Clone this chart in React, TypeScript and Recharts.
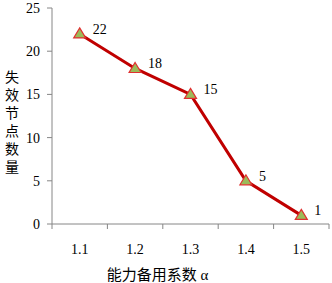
import React from 'react';
import { LineChart, Line, XAxis, YAxis, LabelList, Label } from 'recharts';

const categories = [1.1, 1.2, 1.3, 1.4, 1.5];
const failedNodes = [22, 18, 15, 5, 1];
const boundaryTicks = [1.05, 1.15, 1.25, 1.35, 1.45, 1.55];
const yTicks = [0, 5, 10, 15, 20, 25];
const yTitle = '失效节点数量';
const xTitle = '能力备用系数 α';

const data = categories.map((c, i) => ({ alpha: c, count: failedNodes[i] }));

const FONT = '"Liberation Serif", "Noto Sans CJK SC", serif';
const AXIS = '#868686';

const Triangle = (props: any) => {
  const { cx, cy } = props;
  if (cx == null || cy == null) return null;
  return (
    <path
      d={`M${cx},${cy - 6} L${cx + 6},${cy + 4} L${cx - 6},${cy + 4} Z`}
      fill="#9BBB59"
      stroke="#E03030"
      strokeWidth={1.2}
    />
  );
};

const ValueLabel = (props: any) => {
  const { x, y, value } = props;
  return (
    <text x={x + 13} y={y - 5} dy="0.35em" fontSize={14} fontFamily={FONT} fill="#000" textAnchor="start">
      {value}
    </text>
  );
};

const VerticalTitle = () => (
  <text x={12} y={77} fontSize={14} fontFamily={FONT} fill="#000" textAnchor="middle">
    {yTitle.split('').map((ch, i) => (
      <tspan key={i} x={12} dy={i === 0 ? '0.35em' : 18}>
        {ch}
      </tspan>
    ))}
  </text>
);

export default function App() {
  document.body.style.margin = '0';
  return (
    <div style={{ width: 332, height: 283, background: '#fff' }}>
      <LineChart width={332} height={283} data={data} margin={{ top: 8, right: 3, bottom: 0, left: 0 }}>
        <XAxis
          xAxisId="grid"
          type="number"
          dataKey="alpha"
          domain={[1.05, 1.55]}
          ticks={boundaryTicks}
          tickFormatter={() => ''}
          stroke={AXIS}
          tickSize={5}
          height={6}
        />
        <XAxis
          xAxisId="lab"
          type="number"
          dataKey="alpha"
          domain={[1.05, 1.55]}
          ticks={categories}
          axisLine={false}
          tickLine={false}
          tick={{ fill: '#000', fontSize: 14, fontFamily: FONT }}
          tickMargin={8}
          height={53}
        >
          <Label
            value={xTitle}
            position="insideBottom"
            offset={0}
            dx={-33}
            dy={-3}
            style={{ fontSize: 15, fontFamily: FONT, fill: '#000' }}
          />
        </XAxis>
        <YAxis
          type="number"
          domain={[0, 25]}
          ticks={yTicks}
          width={52}
          stroke={AXIS}
          tickSize={5}
          tickMargin={7}
          tick={{ fill: '#000', fontSize: 14, fontFamily: FONT }}
          label={<VerticalTitle />}
        />
        <Line
          xAxisId="lab"
          dataKey="count"
          stroke="#C00000"
          strokeWidth={3}
          dot={<Triangle />}
          activeDot={false}
          isAnimationActive={false}
        >
          <LabelList dataKey="count" content={<ValueLabel />} />
        </Line>
      </LineChart>
    </div>
  );
}
